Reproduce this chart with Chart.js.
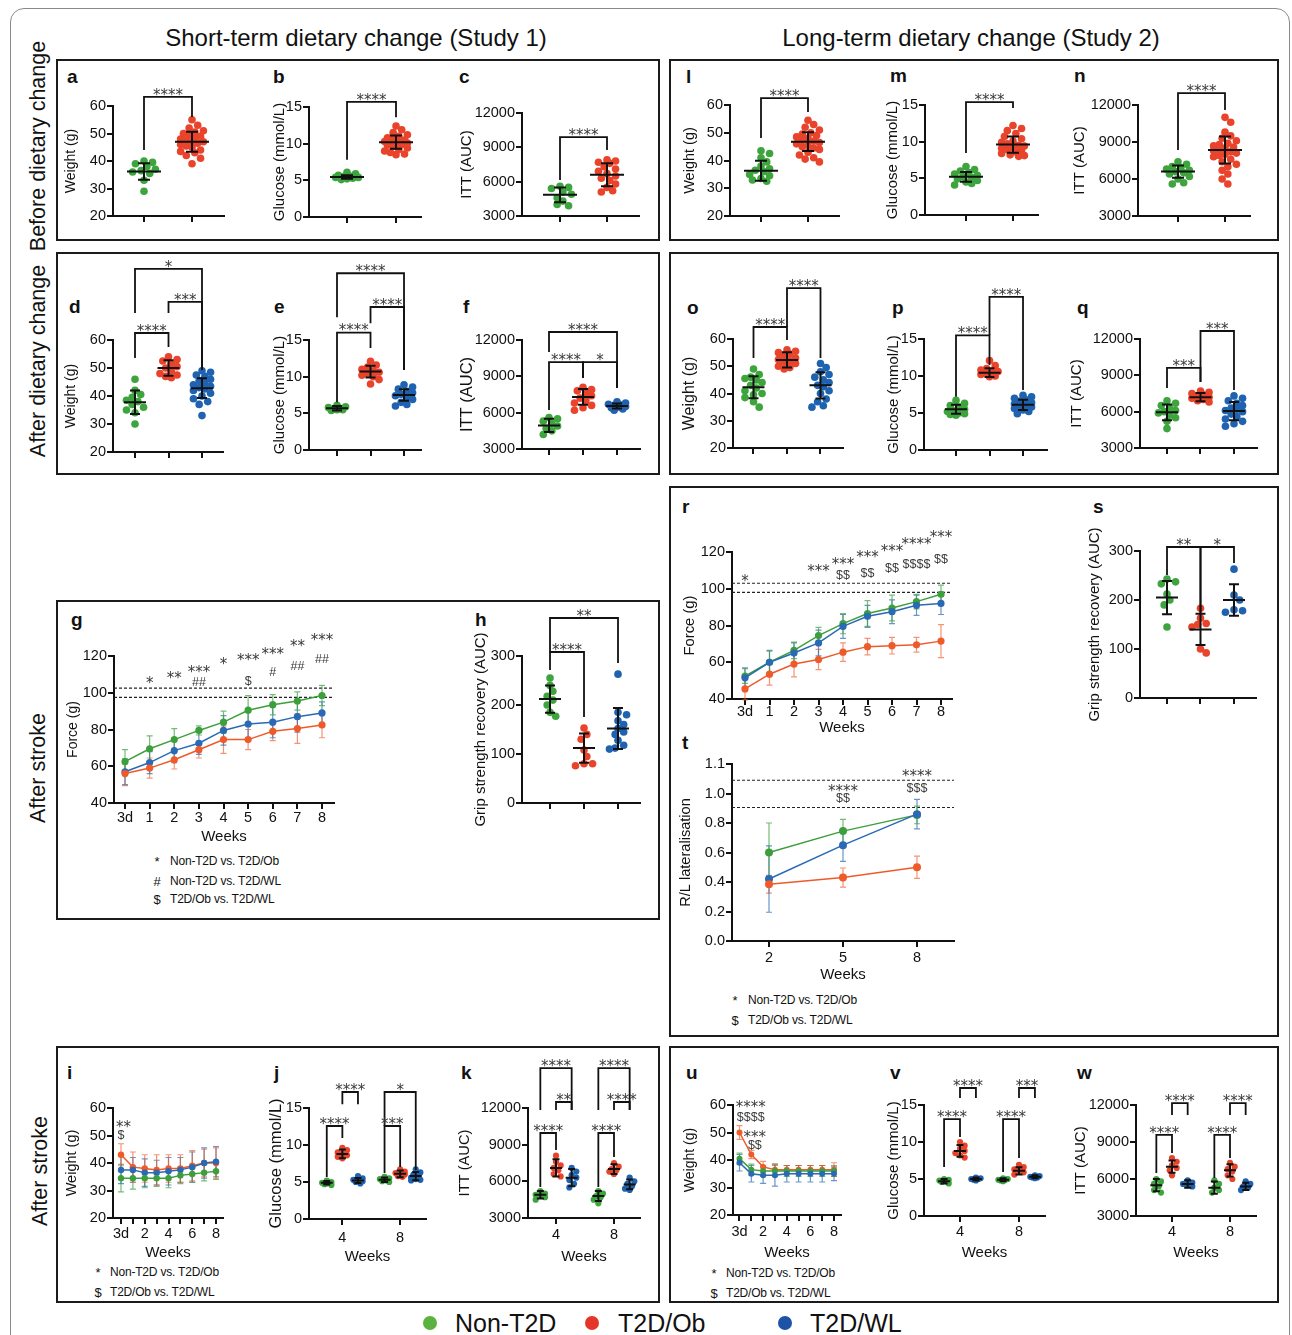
<!DOCTYPE html>
<html>
<head>
<meta charset="utf-8">
<title>Dietary change, glucose and grip strength</title>
<script src="https://cdn.jsdelivr.net/npm/chart.js@4.4.1/dist/chart.umd.min.js"></script>
<style>
  body { margin: 0; width: 1292px; height: 1335px; position: relative; overflow: hidden; background: #fff;
         font-family: 'Liberation Sans', Arial, sans-serif; color: #111; }
  .frame { position: absolute; left: 10px; top: 8px; width: 1280px; height: 1360px; border: 1.5px solid #8a8a8a;
           border-radius: 14px; box-sizing: border-box; }
  .box { position: absolute; border: 2px solid #1b1b1b; box-sizing: border-box; }
  .col { position: absolute; font-size: 24px; transform: translate(-50%, -50%); white-space: nowrap; }
  .row { position: absolute; font-size: 21.5px; transform: translate(-50%, -50%) rotate(-90deg); white-space: nowrap; }
  .lt { position: absolute; font-size: 19px; font-weight: bold; line-height: 22px; transform: translateY(-50%); }
  .sym { position: absolute; font-size: 13px; transform: translate(-50%, -50%); }
  .note { position: absolute; font-size: 12px; letter-spacing: -0.2px; transform: translateY(-50%); white-space: nowrap; }
  .dot { position: absolute; width: 14px; height: 14px; border-radius: 50%; transform: translate(-50%, -50%); }
  .key { position: absolute; font-size: 25px; transform: translateY(-50%); white-space: nowrap; }
  canvas { position: absolute; }
</style>
</head>
<body>
<div class="frame"></div>

<div class="col" style="left:356px;top:38px">Short-term dietary change (Study 1)</div>
<div class="col" style="left:971px;top:38px">Long-term dietary change (Study 2)</div>

<div class="row" style="left:38px;top:146px">Before dietary change</div>
<div class="row" style="left:38px;top:361px">After dietary change</div>
<div class="row" style="left:38px;top:768px">After stroke</div>
<div class="row" style="left:40px;top:1171px">After stroke</div>

<div class="box" style="left:56px;top:59px;width:604px;height:182px"></div>
<div class="box" style="left:669px;top:59px;width:610px;height:182px"></div>
<div class="box" style="left:56px;top:252px;width:604px;height:223px"></div>
<div class="box" style="left:669px;top:252px;width:610px;height:223px"></div>
<div class="box" style="left:56px;top:600px;width:604px;height:320px"></div>
<div class="box" style="left:669px;top:486px;width:610px;height:551px"></div>
<div class="box" style="left:56px;top:1046px;width:604px;height:257px"></div>
<div class="box" style="left:669px;top:1046px;width:610px;height:257px"></div>

<div class="lt" style="left:67px;top:77px">a</div>
<div class="lt" style="left:273px;top:77px">b</div>
<div class="lt" style="left:459px;top:77px">c</div>
<div class="lt" style="left:686px;top:77px">l</div>
<div class="lt" style="left:890px;top:76px">m</div>
<div class="lt" style="left:1074px;top:76px">n</div>
<div class="lt" style="left:69px;top:307px">d</div>
<div class="lt" style="left:274px;top:307px">e</div>
<div class="lt" style="left:463px;top:307px">f</div>
<div class="lt" style="left:687px;top:308px">o</div>
<div class="lt" style="left:892px;top:308px">p</div>
<div class="lt" style="left:1077px;top:308px">q</div>
<div class="lt" style="left:71px;top:620px">g</div>
<div class="lt" style="left:475px;top:620px">h</div>
<div class="lt" style="left:682px;top:507px">r</div>
<div class="lt" style="left:1093px;top:507px">s</div>
<div class="lt" style="left:682px;top:743px">t</div>
<div class="lt" style="left:67px;top:1073px">i</div>
<div class="lt" style="left:274px;top:1073px">j</div>
<div class="lt" style="left:461px;top:1073px">k</div>
<div class="lt" style="left:686px;top:1073px">u</div>
<div class="lt" style="left:890px;top:1073px">v</div>
<div class="lt" style="left:1077px;top:1073px">w</div>

<div class="sym" style="left:157px;top:861px">*</div><div class="note" style="left:170px;top:861px">Non-T2D vs. T2D/Ob</div>
<div class="sym" style="left:157px;top:881px">#</div><div class="note" style="left:170px;top:881px">Non-T2D vs. T2D/WL</div>
<div class="sym" style="left:157px;top:899px">$</div><div class="note" style="left:170px;top:899px">T2D/Ob vs. T2D/WL</div>

<div class="sym" style="left:735px;top:1000px">*</div><div class="note" style="left:748px;top:1000px">Non-T2D vs. T2D/Ob</div>
<div class="sym" style="left:735px;top:1020px">$</div><div class="note" style="left:748px;top:1020px">T2D/Ob vs. T2D/WL</div>

<div class="sym" style="left:98px;top:1272px">*</div><div class="note" style="left:110px;top:1272px">Non-T2D vs. T2D/Ob</div>
<div class="sym" style="left:98px;top:1292px">$</div><div class="note" style="left:110px;top:1292px">T2D/Ob vs. T2D/WL</div>

<div class="sym" style="left:714px;top:1273px">*</div><div class="note" style="left:726px;top:1273px">Non-T2D vs. T2D/Ob</div>
<div class="sym" style="left:714px;top:1293px">$</div><div class="note" style="left:726px;top:1293px">T2D/Ob vs. T2D/WL</div>

<div class="dot" style="left:430px;top:1323px;background:#5cb23e"></div><div class="key" style="left:455px;top:1323px">Non-T2D</div>
<div class="dot" style="left:592px;top:1323px;background:#e53429"></div><div class="key" style="left:618px;top:1323px">T2D/Ob</div>
<div class="dot" style="left:785px;top:1323px;background:#1d52a6"></div><div class="key" style="left:810px;top:1323px">T2D/WL</div>

<script>
const GREEN = '#3ea53e', RED = '#e9442b', BLUE = '#1f62b0';
const LINE_GREEN = '#3c9f3c', LINE_RED = '#ef5a2a', LINE_BLUE = '#2a69b4';
const BAR_GREEN = 'rgba(60,159,60,0.7)', BAR_RED = 'rgba(239,90,42,0.65)', BAR_BLUE = 'rgba(42,105,180,0.7)';
const FONT = "'Liberation Sans', Arial, sans-serif";
const GAP = 1.08; // offset of Non-T2D / T2D/WL dots around the week tick

// ---- before dietary change (study 1) ----
const aGreen = [40, 39.5, 39, 38, 37, 36.5, 36, 35.5, 33, 29];
const aRed = [55, 53, 52, 51, 50.5, 50, 49.5, 49, 48.5, 48, 47.5, 47, 47, 46.5, 46, 45.5, 45, 44, 43.5, 43, 42, 41, 39];
const aMean = [36.2, 47], aSd = [3, 3.6];
const bGreen = [6.1, 5.9, 5.7, 5.6, 5.5, 5.4, 5.4, 5.3, 5.2, 5.1];
const bRed = [12.4, 11.9, 11.5, 11.2, 11.0, 10.8, 10.6, 10.5, 10.4, 10.3, 10.2, 10.1, 10.0, 9.9, 9.8, 9.6, 9.4, 9.2, 9.0, 8.8, 8.6, 8.5];
const bMean = [5.45, 10.2], bSd = [0.25, 0.9];
const cGreen = [5600, 5500, 5400, 5100, 4900, 4600, 4300, 4000, 3900];
const cRed = [7900, 7800, 7700, 7600, 7300, 7100, 6900, 6700, 6500, 6300, 6100, 5800, 5500, 5200, 5100];
const cMean = [4850, 6600], cSd = [650, 1000];

// ---- before dietary change (study 2) ----
const lGreen = [43.5, 42.5, 41, 39.5, 38, 37, 36.5, 36, 35, 34.5, 33.5, 33, 32.5];
const lRed = [54.5, 53, 52, 51, 50, 49.5, 49, 48.5, 48, 47.5, 47, 46.5, 46, 45.5, 45, 44.5, 44, 43, 42, 41, 40.5, 39.5];
const lMean = [36.3, 46.8], lSd = [3.6, 3.4];
const mGreen = [6.6, 6.2, 6.0, 5.8, 5.6, 5.4, 5.2, 5.1, 4.9, 4.7, 4.5, 4.3, 4.1];
const mRed = [12.2, 11.8, 11.5, 11.1, 10.7, 10.4, 10.1, 9.9, 9.7, 9.5, 9.4, 9.2, 9.1, 8.9, 8.8, 8.6, 8.4, 8.2, 8.1, 8.0];
const mMean = [5.2, 9.6], mSd = [0.65, 1.1];
const nGreen = [7400, 7200, 7000, 6900, 6800, 6700, 6600, 6500, 6400, 6200, 6000, 5700, 5600];
const nRed = [11000, 10600, 9800, 9500, 9300, 9100, 8900, 8800, 8700, 8600, 8500, 8400, 8300, 8200, 8100, 8000, 7900, 7800, 7600, 7400, 7200, 7000, 6700, 6400, 6000, 5600];
const nMean = [6600, 8350], nSd = [500, 1100];

// ---- after dietary change ----
const dGreen = [46, 42, 40.5, 39.5, 38.5, 38, 37, 36, 35, 34, 30];
const dRed = [54, 53, 52.5, 51.5, 50.5, 50, 49, 48, 47.5, 47, 46.5];
const dBlue = [49, 48.5, 47.5, 47, 46, 45.5, 44.5, 44, 43.5, 43, 42.5, 42, 41, 40, 39, 38, 37, 33];
const dMean = [37.8, 50, 42.8], dSd = [4.2, 2.8, 3.5];
const eGreen = [6.1, 5.9, 5.8, 5.7, 5.6, 5.5, 5.5, 5.4];
const eRed = [12.1, 11.6, 11.3, 11.0, 10.8, 10.6, 10.4, 10.2, 10.0, 9.6, 9.0];
const eBlue = [8.9, 8.6, 8.3, 8.0, 7.8, 7.6, 7.4, 7.2, 6.9, 6.5, 6.2, 6.0];
const eMean = [5.7, 10.7, 7.5], eSd = [0.3, 0.8, 0.8];
const fGreen = [5600, 5500, 5300, 5100, 4900, 4700, 4500, 4200];
const fRed = [8100, 7900, 7800, 7600, 7400, 7200, 7000, 6800, 6600, 6400, 6200];
const fBlue = [6900, 6800, 6700, 6650, 6600, 6500, 6450, 6400, 6300, 6200];
const fMean = [4950, 7300, 6550], fSd = [550, 650, 200];
const oGreen = [49, 47, 46, 45.5, 45, 44, 43, 42, 41, 40, 39.5, 38.5, 37, 35];
const oRed = [56, 55.5, 55, 54.5, 54, 53, 52.5, 52, 51.5, 51, 50, 49.5, 49];
const oBlue = [51, 49.5, 48, 47, 46, 45, 44, 43, 42.5, 41, 40, 38, 37, 35.5, 35];
const oMean = [42.3, 52.3, 43], oSd = [4, 2.8, 4.8];
const pGreen = [6.7, 6.3, 6.0, 5.8, 5.5, 5.3, 5.2, 5.0, 4.9, 4.8, 4.7];
const pRed = [12.1, 11.4, 11.0, 10.8, 10.6, 10.5, 10.4, 10.2, 10.0, 9.9];
const pBlue = [7.4, 7.2, 7.0, 6.8, 6.6, 6.4, 6.2, 6.1, 6.0, 5.8, 5.6, 5.4, 5.2, 4.9];
const pMean = [5.5, 10.45, 6.1], pSd = [0.6, 0.6, 0.7];
const qGreen = [6900, 6700, 6500, 6300, 6100, 6000, 5900, 5700, 5500, 5200, 4600];
const qRed = [7700, 7600, 7500, 7400, 7300, 7200, 7100, 7000, 6900, 6800];
const qBlue = [7300, 7100, 6900, 6700, 6500, 6300, 6200, 6100, 6000, 5800, 5600, 5400, 5200, 5000, 4800];
const qMean = [5950, 7200, 6050], qSd = [650, 350, 750];

// ---- grip strength after stroke ----
const WEEK_STEPS = [0, 1, 2, 3, 4, 5, 6, 7, 8];
const WEEK_LABELS = ['3d', '1', '2', '3', '4', '5', '6', '7', '8'];
const WEEK_LABELS_SPARSE = ['3d', '', '2', '', '4', '', '6', '', '8'];
const gGreen = [62.5, 69.5, 74.5, 79.5, 84, 90.5, 93.5, 95.5, 98.5], gGreenSd = [6.5, 7, 6, 2.5, 6, 8, 5.5, 5, 5.5];
const gBlue = [57, 62, 68.5, 72.5, 79.5, 83, 84, 87, 89], gBlueSd = [7, 6, 6.5, 6, 8, 8, 8.5, 8.5, 6];
const gRed = [56, 59, 63.5, 69, 74.5, 74.5, 79, 80.5, 82.5], gRedSd = [6.5, 5.5, 5, 4.5, 7.5, 5.5, 5, 8, 7];
const hGreen = [255, 240, 228, 218, 210, 200, 185, 177];
const hRed = [153, 140, 130, 108, 95, 80, 76, 80];
const hBlue = [263, 185, 180, 168, 160, 152, 145, 140, 128, 118, 110, 112];
const hMean = [212, 112, 152], hSd = [28, 30, 42];
const rGreen = [52.5, 60, 66.5, 74.5, 81, 86.5, 89.5, 93, 97], rGreenSd = [4, 6, 4.5, 4.5, 5.5, 7, 7, 4, 5];
const rBlue = [51.5, 60, 65, 70.5, 79.5, 85, 87.5, 91, 92], rBlueSd = [5.5, 6.5, 5.5, 7, 6.5, 6, 6.5, 5.5, 6];
const rRed = [45.5, 53.5, 59, 61.5, 65.5, 68.5, 69, 69.5, 71.5], rRedSd = [6, 6, 7, 5.5, 5, 4.5, 4.5, 4, 9];
const sGreen = [243, 237, 233, 212, 200, 190, 145];
const sRed = [183, 163, 152, 150, 145, 100, 92];
const sBlue = [263, 210, 200, 180, 178, 175];
const sMean = [205, 140, 200], sSd = [34, 32, 32];
const tWeeks = [2, 5, 8];
const tGreen = [0.60, 0.745, 0.855], tGreenSd = [0.2, 0.08, 0.06];
const tBlue = [0.42, 0.65, 0.86], tBlueSd = [0.225, 0.11, 0.1];
const tRed = [0.385, 0.43, 0.50], tRedSd = [0.06, 0.065, 0.075];

// ---- after stroke: weight, glucose, ITT ----
const iRed = [43, 38.5, 38, 37.5, 38, 38, 39, 40, 40], iRedSd = [4, 5.5, 5, 5.5, 5, 5, 5.5, 5, 5.5];
const iBlue = [37.5, 37.5, 36.5, 36.5, 37, 37.5, 38.5, 40, 40.5], iBlueSd = [5, 4.5, 5, 4.5, 5, 4.5, 5.5, 5.5, 5.5];
const iGreen = [34.5, 34.5, 34.5, 34.5, 34.5, 35.5, 36, 36.5, 37], iGreenSd = [5, 4, 3.5, 3, 3.5, 3, 3, 3, 3];
const jGreen4 = [5.2, 5.0, 4.9, 4.9, 4.8, 4.7, 4.6], jRed4 = [9.6, 9.3, 9.0, 8.8, 8.6, 8.4, 8.2], jBlue4 = [5.8, 5.5, 5.3, 5.2, 5.1, 5.0, 4.8];
const jGreen8 = [5.7, 5.5, 5.4, 5.3, 5.2, 5.1, 5.0], jRed8 = [6.7, 6.4, 6.2, 6.1, 6.0, 5.8, 5.7], jBlue8 = [6.7, 6.3, 6.0, 5.8, 5.6, 5.4, 5.3, 5.2];
const jMean = [4.9, 8.8, 5.2, 5.3, 6.1, 5.8], jSd = [0.25, 0.6, 0.35, 0.3, 0.45, 0.55];
const kGreen4 = [5200, 5000, 4900, 4800, 4700, 4500], kRed4 = [8100, 7600, 7300, 7100, 6900, 6600, 6400], kBlue4 = [7100, 6800, 6500, 6300, 6100, 5800, 5500];
const kGreen8 = [5200, 5000, 4800, 4700, 4500, 4200], kRed8 = [7500, 7200, 7000, 6900, 6800, 6600], kBlue8 = [6300, 6000, 5800, 5600, 5400, 5300];
const kMean = [4900, 7100, 6300, 4800, 7000, 5750], kSd = [300, 700, 700, 400, 400, 400];
const uRed = [50, 42, 37.5, 36.5, 36.5, 36.5, 36.5, 36.5, 36.5], uRedSd = [2.5, 1.5, 2, 2, 1.5, 1.5, 1.5, 1.5, 2.5];
const uGreen = [40.5, 36.5, 36, 36, 36, 36, 36, 36, 36], uGreenSd = [2, 2, 2, 2, 2, 2, 2, 2, 2];
const uBlue = [39, 35, 34.5, 34.5, 35, 35, 35, 35, 35], uBlueSd = [3, 3, 3, 4, 3, 3, 3, 3, 2.5];
const vGreen4 = [5.0, 4.9, 4.8, 4.7, 4.6, 4.4], vRed4 = [10.0, 9.5, 9.1, 8.8, 8.5, 8.2, 7.9], vBlue4 = [5.2, 5.1, 5.0, 5.0, 4.9, 4.8];
const vGreen8 = [5.1, 5.0, 4.9, 4.9, 4.8, 4.7], vRed8 = [6.9, 6.6, 6.3, 6.1, 5.9, 5.6], vBlue8 = [5.5, 5.4, 5.3, 5.2, 5.2, 5.1];
const vMean = [4.7, 8.8, 5.0, 4.9, 6.1, 5.3], vSd = [0.3, 0.8, 0.2, 0.2, 0.5, 0.2];
const wGreen4 = [6000, 5800, 5600, 5400, 5100, 4900], wRed4 = [7700, 7400, 7100, 6900, 6700, 6300], wBlue4 = [5900, 5700, 5600, 5500, 5400];
const wGreen8 = [5900, 5600, 5300, 5100, 4900], wRed8 = [7300, 7000, 6800, 6600, 6300, 6000], wBlue8 = [5800, 5600, 5400, 5300, 5100];
const wMean = [5500, 7000, 5600, 5300, 6700, 5400], wSd = [500, 500, 300, 500, 500, 300];

// significance brackets: [fromX, toX, barLevel, leftLegEnd, rightLegEnd, label] (data units)
const aBrackets = [[1, 2, 63.3, 44, 56, '****']];
const bBrackets = [[1, 2, 15.7, 7.8, 13.6, '****']];
const cBrackets = [[1, 2, 9900, 6150, 8770, '****']];
const lBrackets = [[1, 2, 62.5, 48.1, 57.5, '****']];
const mBrackets = [[1, 2, 15.4, 8.45, 14.6, '****']];
const nBrackets = [[1, 2, 12970, 8350, 11600, '****']];
const dBrackets = [[1, 3, 85.4, 69.6, 49.3, '*'], [2, 3, 73.6, 69.6, 49.3, '***'], [1, 2, 62.5, 53.6, 57.5, '****']];
const eBrackets = [[1, 3, 24.1, 18.1, 10.9, '****'], [2, 3, 19.5, 17.3, 10.9, '****'], [1, 2, 16.0, 6.5, 13.9, '****']];
const fBrackets = [[1, 3, 12660, 11010, 8040, '****'], [1, 2, 10180, 6220, 8860, '****'], [2, 3, 10180, 8860, 8040, '*']];
const oBrackets = [[2, 3, 78.7, 64.4, 53.0, '****'], [1, 2, 64.4, 53.0, 59.6, '****']];
const pBrackets = [[2, 3, 20.7, 15.5, 8.1, '****'], [1, 2, 15.5, 7.2, 11.5, '****']];
const qBrackets = [[2, 3, 12660, 8450, 7790, '***'], [1, 2, 9610, 7950, 8450, '***']];
const hBrackets = [[1, 3, 377.6, 308.2, 285.7, '**'], [1, 2, 308.2, 271.4, 175.5, '****']];
const sBrackets = [[1, 2, 308.2, 251, 173.5, '**'], [2, 3, 308.2, 173.5, 275.5, '*']];
const jBrackets = [[4, 4 + GAP, 17.16, 15.5, 15.5, '****'], [4 - GAP, 4, 12.57, 5.68, 10.95, '****'],
                   [8 - GAP, 8 + GAP, 17.16, 12.57, 6.62, '*'], [8 - GAP, 8, 12.57, 6.22, 7.03, '***']];
const kBrackets = [[4 - GAP, 4 + GAP, 15270, 11840, 11840, '****'], [4, 4 + GAP, 12490, 11840, 11840, '**'], [4 - GAP, 4, 9955, 5540, 8560, '****'],
                   [8 - GAP, 8 + GAP, 15270, 11840, 11840, '****'], [8, 8 + GAP, 12490, 11840, 11840, '****'], [8 - GAP, 8, 9955, 5540, 7990, '****']];
const vBrackets = [[4, 4 + GAP, 17.3, 15.95, 15.95, '****'], [4 - GAP, 4, 13.1, 6.62, 10.68, '****'],
                   [8, 8 + GAP, 17.3, 15.95, 15.95, '***'], [8 - GAP, 8, 13.1, 5.95, 7.84, '****']];
const wBrackets = [[4, 4 + GAP, 12160, 11190, 11190, '****'], [4 - GAP, 4, 9570, 6490, 8110, '****'],
                   [8, 8 + GAP, 12160, 11190, 11190, '****'], [8 - GAP, 8, 9570, 6080, 7700, '****']];

// significance marks on the time courses: [x, y, label]
const gNotes = [[1, 107.5, '*'], [2, 110.2, '**'], [3, 113.5, '***'], [3, 105.9, '##'], [4, 117.8, '*'], [5, 120, '***'], [5, 106.9, '$'],
                [6, 123.3, '***'], [6, 111.8, '#'], [7, 127.6, '**'], [7, 115.1, '##'], [8, 130.9, '***'], [8, 118.9, '##']];
const rNotes = [[0, 106.4, '*'], [3, 111.8, '***'], [4, 115.6, '***'], [4, 107.5, '$$'], [5, 119.5, '***'], [5, 108.6, '$$'],
                [6, 122.7, '***'], [6, 111.3, '$$'], [7, 126.5, '****'], [7, 114, '$$$$'], [8, 130.3, '***'], [8, 116.7, '$$']];
const tNotes = [[5, 1.044, '****'], [5, 0.97, '$$'], [8, 1.146, '****'], [8, 1.044, '$$$']];
const iNotes = [[0.2, 54.4, '**'], [0, 50.5, '$']];
const uNotes = [[0.95, 60.7, '****'], [0.95, 56, '$$$$'], [1.3, 49.8, '***'], [1.3, 45.8, '$$']];
const gripRefs = [102.5, 97.5], gripRefs2 = [103, 98], lateralRefs = [1.09, 0.905];

function pairGroups(lists) { return lists.map((vals, i) => [i + 1, vals, [GREEN, RED, BLUE][i]]); }
function weekGroups(lists) {
  const xs = [4 - GAP, 4, 4 + GAP, 8 - GAP, 8, 8 + GAP];
  return lists.map((vals, i) => [xs[i], vals, [GREEN, RED, BLUE][i % 3]]);
}

// spread dots of one column sideways (layout only); overlap once the column is full
function swarm(vals, cx, pxX, pxY, r, maxW) {
  const placed = [], out = [];
  const step = r * 0.75, kMax = Math.max(1, Math.floor(maxW / step));
  vals.slice().sort((p, q) => q - p).forEach(v => {
    const py = v * pxY;
    let best = 0, bestD = -1;
    for (let i = 0; i <= 2 * kMax; i++) {
      const dx = (i % 2 ? 1 : -1) * Math.ceil(i / 2) * step;
      const d = placed.length ? Math.min(...placed.map(p => Math.hypot(p[0] - dx, p[1] - py))) : Infinity;
      if (d >= r * 1.7) { best = dx; bestD = d; break; }
      if (d > bestD) { bestD = d; best = dx; }
    }
    placed.push([best, py]);
    out.push({ x: cx + best / pxX, y: v });
  });
  return out;
}

function seg(ctx, x1, y1, x2, y2) { ctx.moveTo(x1, y1); ctx.lineTo(x2, y2); }

function drawMark(ctx, text, x, yc, bracket) {
  const stars = text.includes('*');
  ctx.font = stars ? "15px 'DejaVu Sans'" : "12.5px " + FONT;
  ctx.fillStyle = '#3a3a3a';
  ctx.textAlign = 'center';
  ctx.textBaseline = 'alphabetic';
  if (bracket) ctx.fillText(text, x, yc + 2.7);
  else ctx.fillText(text, x, yc + (stars ? 8.7 : 4.5));
}

function extras(p) {
  return {
    id: 'extras_' + p.id,
    beforeDatasetsDraw(chart) {
      const { ctx, scales: { x, y } } = chart;
      ctx.save();
      (p.refs || []).forEach(v => {
        ctx.beginPath();
        ctx.strokeStyle = '#222'; ctx.lineWidth = 1.2; ctx.setLineDash([3, 2]);
        const py = y.getPixelForValue(v);
        seg(ctx, x.left, py, x.right, py);
        ctx.stroke();
      });
      ctx.setLineDash([]);
      (p.series || []).forEach(([ys, sd, col, bar]) => {
        ctx.beginPath();
        ctx.strokeStyle = bar; ctx.lineWidth = 1.2;
        ys.forEach((v, i) => {
          const px = x.getPixelForValue(p.xs[i]);
          const hi = y.getPixelForValue(v + sd[i]), lo = y.getPixelForValue(v - sd[i]);
          seg(ctx, px, hi, px, lo);
          seg(ctx, px - 3, hi, px + 3, hi);
          seg(ctx, px - 3, lo, px + 3, lo);
        });
        ctx.stroke();
      });
      ctx.restore();
    },
    afterDatasetsDraw(chart) {
      const { ctx, scales: { x, y } } = chart;
      ctx.save();
      ctx.strokeStyle = '#111';
      if (p.groups) {
        ctx.beginPath();
        ctx.lineWidth = 2;
        p.groups.forEach(([gx], i) => {
          const cx = x.getPixelForValue(gx);
          const m = y.getPixelForValue(p.means[i]);
          const hi = y.getPixelForValue(p.means[i] + p.sds[i]), lo = y.getPixelForValue(p.means[i] - p.sds[i]);
          seg(ctx, cx - p.mh, m, cx + p.mh, m);
          seg(ctx, cx, hi, cx, lo);
          seg(ctx, cx - p.ch, hi, cx + p.ch, hi);
          seg(ctx, cx - p.ch, lo, cx + p.ch, lo);
        });
        ctx.stroke();
      }
      (p.brackets || []).forEach(([x1, x2, lvl, l1, l2, txt]) => {
        const X1 = x.getPixelForValue(x1), X2 = x.getPixelForValue(x2), Y = y.getPixelForValue(lvl);
        ctx.beginPath();
        ctx.lineWidth = 1.8;
        ctx.moveTo(X1, y.getPixelForValue(l1));
        ctx.lineTo(X1, Y); ctx.lineTo(X2, Y);
        ctx.lineTo(X2, y.getPixelForValue(l2));
        ctx.stroke();
        drawMark(ctx, txt, (X1 + X2) / 2, Y, true);
      });
      (p.notes || []).forEach(([nx, ny, txt]) => drawMark(ctx, txt, x.getPixelForValue(nx), y.getPixelForValue(ny), false));
      ctx.restore();
    }
  };
}

function build(p) {
  const LW = 80, TP = 100, RP = 20, BP = 40;
  const XH = p.xtitle ? p.wo + 11 : 12;
  const canvas = document.createElement('canvas');
  canvas.width = p.ae - p.ax + LW + RP;
  canvas.height = TP + (p.yb - p.yt) + XH + BP;
  canvas.style.left = (p.ax - LW) + 'px';
  canvas.style.top = (p.yt - TP) + 'px';
  document.body.appendChild(canvas);

  const pxX = (p.ae - p.ax) / (p.xmax - p.xmin);
  const pxY = (p.yb - p.yt) / (p.ymax - p.ymin);
  const datasets = p.groups
    ? p.groups.map(([gx, vals, col]) => ({
        data: swarm(vals, gx, pxX, pxY, p.r, p.sw), backgroundColor: col, pointRadius: p.r, pointBorderWidth: 0, clip: false }))
    : p.series.map(([ys, , col]) => ({
        data: ys.map((v, i) => ({ x: p.xs[i], y: v })), showLine: true, borderColor: col, borderWidth: 1.5,
        backgroundColor: col, pointBackgroundColor: col, pointRadius: p.r, pointBorderWidth: 0, clip: false }));

  const yTicks = p.yticks || [];
  if (!p.yticks) for (let v = p.ymin; v <= p.ymax + 1e-9; v += p.ystep) yTicks.push(+v.toFixed(3));
  const lh = p.tsize * 1.2;
  const axisLine = { color: '#111', width: 2 };
  const tickMarks = { drawOnChartArea: false, drawTicks: true, tickLength: 6, color: '#111', lineWidth: 2 };

  new Chart(canvas, {
    type: 'scatter',
    data: { datasets },
    options: {
      responsive: false, animation: false, events: [],
      layout: { padding: { top: TP, right: RP, left: 0, bottom: BP } },
      plugins: { legend: { display: false }, tooltip: { enabled: false } },
      scales: {
        x: {
          type: 'linear', min: p.xmin, max: p.xmax,
          afterBuildTicks: s => { s.ticks = p.xticks.map(v => ({ value: v })); },
          afterFit: s => { s.height = XH; },
          border: axisLine, grid: tickMarks,
          ticks: { font: { family: FONT, size: 14.5 }, color: '#111', autoSkip: false, maxRotation: 0, minRotation: 0,
                   padding: p.xtitle ? p.lo - 6 - 8.7 : 0, callback: (v, i) => (p.xlabels ? p.xlabels[i] : '') },
          title: p.xtitle
            ? { display: true, text: p.xtitle, color: '#111', font: { family: FONT, size: 15 }, padding: { top: 0, bottom: 2 } }
            : { display: false }
        },
        y: {
          type: 'linear', min: p.ymin, max: p.ymax,
          afterBuildTicks: s => { s.ticks = yTicks.map(v => ({ value: v })); },
          afterFit: s => { s.width = LW; },
          border: axisLine, grid: tickMarks,
          ticks: { font: { family: FONT, size: 14.5 }, color: '#111', padding: 1, callback: p.yfmt || (v => String(v)) },
          title: { display: true, text: p.ytitle, color: '#111', font: { family: FONT, size: p.tsize },
                   padding: { top: p.ttx - (p.ax - LW) - lh / 2, bottom: 0 } }
        }
      }
    },
    plugins: [extras(p)]
  });
}

const dot2 = { r: 3.8, mh: 17, ch: 6, sw: 14 };
const dot3 = { r: 3.8, mh: 11, ch: 5, sw: 10 };
const dotW = { r: 3.1, mh: 6, ch: 3.5, sw: 5 };
const weekAxis = { xticks: [4, 8], xlabels: ['4', '8'], xtitle: 'Weeks' };

const panels = [
  { id: 'a', ax: 113, ae: 224, yt: 106, yb: 216, xmin: 0.354, xmax: 2.667, ymin: 20, ymax: 60, ystep: 10, ytitle: 'Weight (g)', tsize: 14, ttx: 71,
    xticks: [1, 2], groups: pairGroups([aGreen, aRed]), means: aMean, sds: aSd, brackets: aBrackets, ...dot2 },
  { id: 'b', ax: 309, ae: 421, yt: 107, yb: 217, xmin: 0.224, xmax: 2.51, ymin: 0, ymax: 15, ystep: 5, ytitle: 'Glucose (mmol/L)', tsize: 15, ttx: 280,
    xticks: [1, 2], groups: pairGroups([bGreen, bRed]), means: bMean, sds: bSd, brackets: bBrackets, ...dot2 },
  { id: 'c', ax: 522, ae: 639, yt: 113, yb: 216, xmin: 0.191, xmax: 2.681, ymin: 3000, ymax: 12000, ystep: 3000, ytitle: 'ITT (AUC)', tsize: 15, ttx: 467,
    xticks: [1, 2], groups: pairGroups([cGreen, cRed]), means: cMean, sds: cSd, brackets: cBrackets, ...dot2 },
  { id: 'l', ax: 730, ae: 839, yt: 105, yb: 216, xmin: 0.34, xmax: 2.66, ymin: 20, ymax: 60, ystep: 10, ytitle: 'Weight (g)', tsize: 14.5, ttx: 690,
    xticks: [1, 2], groups: pairGroups([lGreen, lRed]), means: lMean, sds: lSd, brackets: lBrackets, ...dot2 },
  { id: 'm', ax: 925, ae: 1038, yt: 105, yb: 215, xmin: 0.128, xmax: 2.532, ymin: 0, ymax: 15, ystep: 5, ytitle: 'Glucose (mmol/L)', tsize: 15, ttx: 893,
    xticks: [1, 2], groups: pairGroups([mGreen, mRed]), means: mMean, sds: mSd, brackets: mBrackets, ...dot2 },
  { id: 'n', ax: 1138, ae: 1250, yt: 105, yb: 216, xmin: 0.149, xmax: 2.532, ymin: 3000, ymax: 12000, ystep: 3000, ytitle: 'ITT (AUC)', tsize: 15, ttx: 1080,
    xticks: [1, 2], groups: pairGroups([nGreen, nRed]), means: nMean, sds: nSd, brackets: nBrackets, ...dot2 },

  { id: 'd', ax: 113, ae: 223, yt: 340, yb: 452, xmin: 0.343, xmax: 3.627, ymin: 20, ymax: 60, ystep: 10, ytitle: 'Weight (g)', tsize: 14, ttx: 71,
    xticks: [1, 2, 3], groups: pairGroups([dGreen, dRed, dBlue]), means: dMean, sds: dSd, brackets: dBrackets, ...dot3 },
  { id: 'e', ax: 309, ae: 421, yt: 340, yb: 450, xmin: 0.164, xmax: 3.507, ymin: 0, ymax: 15, ystep: 5, ytitle: 'Glucose (mmol/L)', tsize: 15, ttx: 280,
    xticks: [1, 2, 3], groups: pairGroups([eGreen, eRed, eBlue]), means: eMean, sds: eSd, brackets: eBrackets, ...dot3 },
  { id: 'f', ax: 522, ae: 640, yt: 340, yb: 449, xmin: 0.206, xmax: 3.676, ymin: 3000, ymax: 12000, ystep: 3000, ytitle: 'ITT (AUC)', tsize: 16.5, ttx: 467,
    xticks: [1, 2, 3], groups: pairGroups([fGreen, fRed, fBlue]), means: fMean, sds: fSd, brackets: fBrackets, ...dot3 },
  { id: 'o', ax: 733, ae: 843, yt: 339, yb: 448, xmin: 0.388, xmax: 3.672, ymin: 20, ymax: 60, ystep: 10, ytitle: 'Weight (g)', tsize: 16, ttx: 690,
    xticks: [1, 2, 3], groups: pairGroups([oGreen, oRed, oBlue]), means: oMean, sds: oSd, brackets: oBrackets, ...dot3 },
  { id: 'p', ax: 924, ae: 1047, yt: 339, yb: 450, xmin: 0.045, xmax: 3.716, ymin: 0, ymax: 15, ystep: 5, ytitle: 'Glucose (mmol/L)', tsize: 15, ttx: 894,
    xticks: [1, 2, 3], groups: pairGroups([pGreen, pRed, pBlue]), means: pMean, sds: pSd, brackets: pBrackets, ...dot3 },
  { id: 'q', ax: 1140, ae: 1257, yt: 339, yb: 448, xmin: 0.194, xmax: 3.687, ymin: 3000, ymax: 12000, ystep: 3000, ytitle: 'ITT (AUC)', tsize: 15, ttx: 1077,
    xticks: [1, 2, 3], groups: pairGroups([qGreen, qRed, qBlue]), means: qMean, sds: qSd, brackets: qBrackets, ...dot3 },

  { id: 'g', ax: 114, ae: 334, yt: 656, yb: 803, xmin: -0.447, xmax: 8.487, ymin: 40, ymax: 120, ystep: 20, ytitle: 'Force (g)', tsize: 14, ttx: 73,
    xs: WEEK_STEPS, xticks: WEEK_STEPS, xlabels: WEEK_LABELS, xtitle: 'Weeks', lo: 15, wo: 34, r: 3.6, refs: gripRefs, notes: gNotes,
    series: [[gRed, gRedSd, LINE_RED, BAR_RED], [gBlue, gBlueSd, LINE_BLUE, BAR_BLUE], [gGreen, gGreenSd, LINE_GREEN, BAR_GREEN]] },
  { id: 'h', ax: 522, ae: 640, yt: 656, yb: 803, xmin: 0.176, xmax: 3.647, ymin: 0, ymax: 300, ystep: 100, ytitle: 'Grip strength recovery (AUC)', tsize: 15, ttx: 481,
    xticks: [1, 2, 3], groups: pairGroups([hGreen, hRed, hBlue]), means: hMean, sds: hSd, brackets: hBrackets, ...dot3 },
  { id: 'r', ax: 732, ae: 952, yt: 552, yb: 699, xmin: -0.531, xmax: 8.449, ymin: 40, ymax: 120, ystep: 20, ytitle: 'Force (g)', tsize: 14.8, ttx: 690,
    xs: WEEK_STEPS, xticks: WEEK_STEPS, xlabels: WEEK_LABELS, xtitle: 'Weeks', lo: 13, wo: 29, r: 3.6, refs: gripRefs2, notes: rNotes,
    series: [[rRed, rRedSd, LINE_RED, BAR_RED], [rBlue, rBlueSd, LINE_BLUE, BAR_BLUE], [rGreen, rGreenSd, LINE_GREEN, BAR_GREEN]] },
  { id: 's', ax: 1140, ae: 1256, yt: 551, yb: 698, xmin: 0.194, xmax: 3.657, ymin: 0, ymax: 300, ystep: 100, ytitle: 'Grip strength recovery (AUC)', tsize: 15, ttx: 1095,
    xticks: [1, 2, 3], groups: pairGroups([sGreen, sRed, sBlue]), means: sMean, sds: sSd, brackets: sBrackets, ...dot3 },
  { id: 't', ax: 732, ae: 954, yt: 764, yb: 941, xmin: 0.5, xmax: 9.5, ymin: 0, ymax: 1.2, yticks: [0, 0.2, 0.4, 0.6, 0.8, 1.0, 1.2],
    yfmt: v => (v > 1.15 ? '1.1' : v.toFixed(1)), ytitle: 'R/L lateralisation', tsize: 14.6, ttx: 686,
    xs: tWeeks, xticks: tWeeks, xlabels: ['2', '5', '8'], xtitle: 'Weeks', lo: 17, wo: 34, r: 4, refs: lateralRefs, notes: tNotes,
    series: [[tRed, tRedSd, LINE_RED, BAR_RED], [tBlue, tBlueSd, LINE_BLUE, BAR_BLUE], [tGreen, tGreenSd, LINE_GREEN, BAR_GREEN]] },

  { id: 'i', ax: 113, ae: 223, yt: 1108, yb: 1218, xmin: -0.674, xmax: 8.589, ymin: 20, ymax: 60, ystep: 10, ytitle: 'Weight (g)', tsize: 14.5, ttx: 71.5,
    xs: WEEK_STEPS, xticks: WEEK_STEPS, xlabels: WEEK_LABELS_SPARSE, xtitle: 'Weeks', lo: 16, wo: 35, r: 3.2, notes: iNotes,
    series: [[iGreen, iGreenSd, LINE_GREEN, BAR_GREEN], [iBlue, iBlueSd, LINE_BLUE, BAR_BLUE], [iRed, iRedSd, LINE_RED, BAR_RED]] },
  { id: 'j', ax: 308.5, ae: 426, yt: 1108, yb: 1219, xmin: 1.69, xmax: 9.79, ymin: 0, ymax: 15, ystep: 5, ytitle: 'Glucose (mmol/L)', tsize: 16.5, ttx: 276,
    ...weekAxis, lo: 19, wo: 38, groups: weekGroups([jGreen4, jRed4, jBlue4, jGreen8, jRed8, jBlue8]), means: jMean, sds: jSd, brackets: jBrackets, ...dotW },
  { id: 'k', ax: 528, ae: 640, yt: 1108, yb: 1218, xmin: 2.069, xmax: 9.793, ymin: 3000, ymax: 12000, ystep: 3000, ytitle: 'ITT (AUC)', tsize: 14.7, ttx: 465,
    ...weekAxis, lo: 17, wo: 39, groups: weekGroups([kGreen4, kRed4, kBlue4, kGreen8, kRed8, kBlue8]), means: kMean, sds: kSd, brackets: kBrackets, ...dotW },
  { id: 'u', ax: 733, ae: 841, yt: 1105, yb: 1215, xmin: -0.55, xmax: 8.59, ymin: 20, ymax: 60, ystep: 10, ytitle: 'Weight (g)', tsize: 14, ttx: 690,
    xs: WEEK_STEPS, xticks: WEEK_STEPS, xlabels: WEEK_LABELS_SPARSE, xtitle: 'Weeks', lo: 17, wo: 38, r: 3, notes: uNotes,
    series: [[uBlue, uBlueSd, LINE_BLUE, BAR_BLUE], [uGreen, uGreenSd, LINE_GREEN, BAR_GREEN], [uRed, uRedSd, LINE_RED, BAR_RED]] },
  { id: 'v', ax: 924, ae: 1045, yt: 1105, yb: 1216, xmin: 1.559, xmax: 9.763, ymin: 0, ymax: 15, ystep: 5, ytitle: 'Glucose (mmol/L)', tsize: 15, ttx: 894,
    ...weekAxis, lo: 16, wo: 37, groups: weekGroups([vGreen4, vRed4, vBlue4, vGreen8, vRed8, vBlue8]), means: vMean, sds: vSd, brackets: vBrackets, ...dotW },
  { id: 'w', ax: 1136, ae: 1256, yt: 1105, yb: 1216, xmin: 1.517, xmax: 9.793, ymin: 3000, ymax: 12000, ystep: 3000, ytitle: 'ITT (AUC)', tsize: 15, ttx: 1081,
    ...weekAxis, lo: 16, wo: 37, groups: weekGroups([wGreen4, wRed4, wBlue4, wGreen8, wRed8, wBlue8]), means: wMean, sds: wSd, brackets: wBrackets, ...dotW }
];

panels.forEach(build);
</script>
</body>
</html>
